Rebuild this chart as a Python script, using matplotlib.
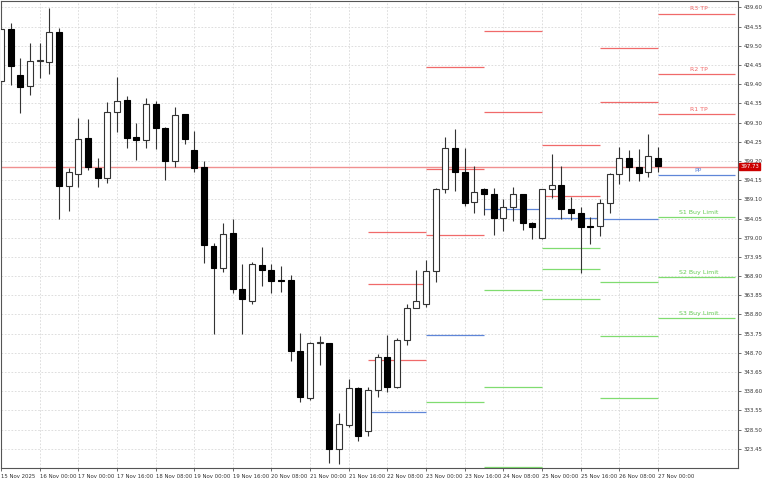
import numpy as np
import matplotlib
matplotlib.use("Agg")
import matplotlib.pyplot as plt

# 4h candles
opens = [420.2, 433.9, 421.7, 418.8, 425.4, 425.2, 433.1, 392.6, 395.9, 405.2,
         397.4, 394.7, 412.1, 415.2, 405.4, 404.6, 414.3, 407.9, 399.2, 411.5,
         402.0, 397.5, 376.9, 371.0, 380.2, 365.6, 362.3, 371.9, 370.5, 367.7,
         367.8, 349.3, 336.8, 351.2, 351.3, 323.4, 329.6, 339.4, 328.2, 338.8,
         347.5, 339.6, 352.0, 360.5, 361.5, 370.3, 391.8, 402.7, 396.2, 388.3,
         391.7, 390.6, 384.2, 387.0, 390.4, 383.0, 378.9, 391.7, 393.0, 386.6,
         385.5, 381.8, 382.1, 388.1, 395.7, 400.0, 397.7, 396.2, 399.9]
highs = [434.0, 435.6, 426.4, 430.3, 430.3, 439.4, 434.2, 397.4, 410.4, 410.2,
         400.0, 414.8, 421.2, 416.3, 409.1, 415.7, 415.0, 408.2, 413.3, 411.6,
         407.0, 399.3, 377.5, 382.9, 384.0, 372.2, 372.7, 376.6, 372.2, 371.5,
         369.1, 353.9, 351.5, 353.1, 351.4, 332.8, 341.8, 339.8, 339.8, 348.4,
         353.4, 352.5, 361.6, 370.6, 373.1, 392.0, 405.4, 407.6, 402.7, 397.8,
         392.1, 392.0, 389.1, 392.4, 390.6, 383.1, 391.9, 401.0, 397.8, 389.8,
         387.0, 384.5, 389.2, 396.1, 402.9, 402.0, 402.3, 406.2, 402.8]
lows = [419.5, 419.2, 411.7, 416.5, 421.1, 422.1, 383.8, 386.1, 392.4, 396.8,
        392.4, 393.5, 406.7, 402.7, 399.4, 402.7, 402.3, 394.1, 397.6, 403.7,
        396.2, 372.4, 353.6, 370.1, 364.5, 353.6, 361.5, 366.3, 364.5, 364.8,
        346.5, 335.9, 336.3, 345.5, 319.8, 319.5, 329.1, 325.6, 326.7, 337.0,
        338.3, 339.4, 350.9, 361.8, 360.8, 367.4, 390.8, 391.3, 387.4, 385.4,
        385.0, 379.6, 380.9, 383.4, 381.0, 378.7, 378.7, 389.5, 384.0, 383.6,
        369.6, 377.4, 379.4, 385.4, 393.2, 394.0, 394.0, 394.9, 396.2]
closes = [433.8, 424.2, 418.7, 425.4, 425.5, 433.1, 392.6, 396.4, 405.1, 397.5,
          394.7, 412.1, 415.0, 405.2, 404.8, 414.3, 407.9, 399.2, 411.4, 405.0,
          397.4, 377.1, 371.0, 380.0, 365.5, 362.9, 372.0, 370.4, 367.6, 367.6,
          349.3, 337.0, 351.2, 351.4, 323.4, 330.0, 339.4, 326.8, 338.8, 347.5,
          339.6, 352.2, 360.5, 362.3, 370.3, 391.8, 402.7, 396.2, 388.2, 391.1,
          390.6, 384.2, 387.0, 390.4, 382.9, 381.7, 391.7, 393.0, 386.5, 385.5,
          381.7, 381.7, 388.1, 395.7, 400.0, 397.6, 396.0, 400.5, 397.8]

last_price = 397.73

# daily pivot segments: (start candle, end candle), R levels, PP, S levels
seg_bounds = [(38, 44), (44, 50), (50, 56), (56, 62), (62, 68), (68, 76)]
seg_r = [[380.6, 366.9, 346.7], [423.8, 397.2, 379.8], [433.3, 412.2],
         [403.4, 389.9], [428.8, 414.6], [438.0, 422.1, 411.5]]
seg_pp = [333.2, 353.4, 386.5, 384.3, 383.8, 395.5]
seg_s = [[], [335.7], [365.3, 339.6, 318.7], [376.3, 370.8, 362.8],
         [367.3, 353.1, 336.7], [384.5, 368.6, 357.8]]
last_labels_r = ["R3 TP", "R2 TP", "R1 TP"]
last_labels_s = ["S1 Buy Limit", "S2 Buy Limit", "S3 Buy Limit"]

xtick_labels = ["15 Nov 2025", "16 Nov 00:00", "17 Nov 00:00", "17 Nov 16:00",
                "18 Nov 08:00", "19 Nov 00:00", "19 Nov 16:00", "20 Nov 08:00",
                "21 Nov 00:00", "21 Nov 16:00", "22 Nov 08:00", "23 Nov 00:00",
                "23 Nov 16:00", "24 Nov 08:00", "25 Nov 00:00", "25 Nov 16:00",
                "26 Nov 08:00", "27 Nov 00:00"]
ytick_vals = [439.60 - 5.05 * k for k in range(24)]

RED = "#f06a6a"
BLUE = "#5f86d8"
GREEN = "#80dc70"
FS = 3.9

fig = plt.figure(figsize=(7.68, 4.8), dpi=100)
ax = fig.add_axes([1 / 768, 12 / 480, 737 / 768, 467 / 480])

x = np.arange(len(opens))
o = np.array(opens); c = np.array(closes)
ax.vlines(x, lows, highs, color="#333333", lw=0.8, zorder=2)
bull = c >= o
bot = np.minimum(o, c)
hgt = np.maximum(np.abs(c - o), 0.35)
ax.bar(x[bull], hgt[bull], bottom=bot[bull], width=0.62, color="white",
       edgecolor="#333333", lw=0.8, zorder=3)
ax.bar(x[~bull], hgt[~bull], bottom=bot[~bull], width=0.62, color="black",
       edgecolor="black", lw=0.8, zorder=3)

# current price line
ax.axhline(last_price, color="#f09090", lw=1.0, zorder=1)

# pivot levels
for i, (a, b) in enumerate(seg_bounds):
    for r in seg_r[i]:
        ax.hlines(r, a, b, color=RED, lw=0.9, zorder=1)
    ax.hlines(seg_pp[i], a, b, color=BLUE, lw=0.9, zorder=1)
    for s in seg_s[i]:
        ax.hlines(s, a, b, color=GREEN, lw=0.9, zorder=1)

a, b = seg_bounds[-1]
mid = (a + b) / 2 + 0.2
for lab, r in zip(last_labels_r, seg_r[-1]):
    ax.text(mid, r + 0.6, lab, color=RED, fontsize=4.5, ha="center", va="bottom")
ax.text(mid, seg_pp[-1] + 0.6, "PP", color=BLUE, fontsize=4.5, ha="center", va="bottom")
for lab, s in zip(last_labels_s, seg_s[-1]):
    ax.text(mid, s + 0.6, lab, color="#66cc55", fontsize=4.5, ha="center", va="bottom")

ax.set_xlim(0.05, 76.3)
ax.set_ylim(318.4, 441.3)

ax.yaxis.tick_right()
ax.set_yticks(ytick_vals)
ax.set_yticklabels([f"{v:.2f}" for v in ytick_vals], fontsize=FS, color="#333333")
ax.set_xticks(np.arange(0, 4 * len(xtick_labels), 4))
ax.set_xticklabels(xtick_labels, fontsize=FS, color="#333333", ha="left")
ax.tick_params(axis="both", length=2.5, width=0.6, color="#555555", pad=1.5)
ax.grid(True, color="#d8d8d8", ls=(0, (2, 2)), lw=0.6)
ax.set_axisbelow(True)
for sp in ax.spines.values():
    sp.set_color("#555555")
    sp.set_linewidth(0.8)

# last price tag on the axis
ax.annotate(f"{last_price:.2f}", xy=(1.0, last_price), xycoords=("axes fraction", "data"),
            xytext=(1.5, 0), textcoords="offset points", fontsize=FS, color="white",
            va="center", ha="left",
            bbox=dict(boxstyle="square,pad=0.15", fc="#cc0000", ec="#cc0000"))

fig.savefig("out.png", dpi=100)
